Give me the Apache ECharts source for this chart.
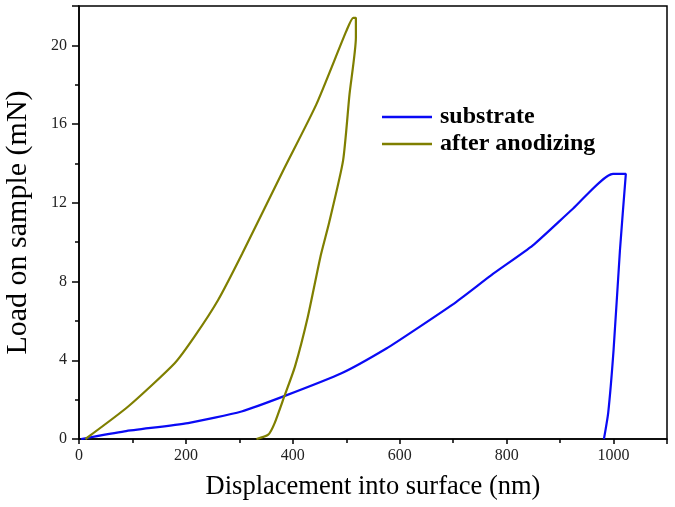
<!DOCTYPE html>
<html>
<head>
<meta charset="utf-8">
<script src="https://cdn.jsdelivr.net/npm/echarts@6/dist/echarts.min.js"></script>
<style>
  html, body { margin: 0; padding: 0; background: #fff; }
  #chart { width: 675px; height: 507px; }
</style>
</head>
<body>
<div id="chart"></div>
<script>
// substrate: loading, hold, unloading
const substrateX = [4, 85, 204, 304, 385, 491, 575, 637, 706, 775, 849, 924, 999, 1023, 1012, 1000, 990, 982]
const substrateY = [0, 0.39, 0.81, 1.4, 2.19, 3.34, 4.6, 5.7, 6.97, 8.4, 9.84, 11.7, 13.47, 13.47, 9.6, 4.5, 1.33, 0]
// after anodizing
const anodizedX = [12, 92, 179, 216, 260, 305, 382, 444, 500, 513, 518, 518, 506, 494, 468, 452, 428, 404, 384, 366, 354, 332]
const anodizedY = [0, 1.65, 3.85, 5.2, 7.05, 9.4, 13.64, 17.0, 20.72, 21.4, 21.4, 20.4, 17.5, 14.14, 11.0, 9.3, 6.2, 3.68, 2.16, 0.81, 0.22, 0]

const seriesNames = ['substrate', 'after anodizing']
const seriesColors = ['#0a0af5', '#7f7f00']

const pairs = (xs, ys) => xs.map((x, i) => [x, ys[i]])

const serif = 'Liberation Serif'
const chart = echarts.init(document.getElementById('chart'))
chart.setOption({
  backgroundColor: '#fff',
  animation: false,
  grid: {
    left: 79,
    right: 8,
    top: 6,
    bottom: 68,
    outerBoundsMode: 'none',
    containLabel: false,
    show: true,
    borderColor: '#000',
    borderWidth: 1.5,
  },
  legend: {
    orient: 'vertical',
    left: 382,
    top: 105,
    padding: 0,
    icon: 'rect',
    itemWidth: 50,
    itemHeight: 2.5,
    itemGap: 3,
    data: seriesNames,
    textStyle: { fontFamily: serif, fontWeight: 'bold', fontSize: 24, color: '#000', padding: [0, 0, 0, 3] },
  },
  xAxis: {
    type: 'value',
    min: 0,
    max: 1100,
    interval: 200,
    name: 'Displacement into surface (nm)',
    nameLocation: 'middle',
    nameGap: 35,
    nameTextStyle: { fontFamily: serif, fontSize: 26.5, color: '#000' },
    axisLine: { lineStyle: { color: '#000', width: 1.5 } },
    axisTick: { length: 5, lineStyle: { color: '#000', width: 1.5 } },
    minorTick: { show: true, splitNumber: 2, length: 4, lineStyle: { color: '#000', width: 1.5 } },
    splitLine: { show: false },
    axisLabel: {
      showMaxLabel: false,
      margin: 9,
      fontFamily: serif,
      fontSize: 16,
      color: '#222',
      formatter: (v) => String(v),
    },
  },
  yAxis: {
    type: 'value',
    min: 0,
    max: 22,
    interval: 4,
    name: 'Load on sample (mN)',
    nameLocation: 'middle',
    nameGap: 46,
    nameTextStyle: { fontFamily: serif, fontSize: 30, color: '#000' },
    axisLine: { show: true, lineStyle: { color: '#000', width: 1.5 } },
    axisTick: { show: true, length: 7, lineStyle: { color: '#000', width: 1.5 } },
    minorTick: { show: true, splitNumber: 2, length: 4, lineStyle: { color: '#000', width: 1.5 } },
    splitLine: { show: false },
    axisLabel: { showMaxLabel: false, margin: 12, fontFamily: serif, fontSize: 16, color: '#222' },
  },
  series: [
    {
      name: seriesNames[0],
      type: 'line',
      data: pairs(substrateX, substrateY),
      symbol: 'none',
      smooth: 0.2,
      lineStyle: { color: seriesColors[0], width: 2.2 },
      itemStyle: { color: seriesColors[0] },
    },
    {
      name: seriesNames[1],
      type: 'line',
      data: pairs(anodizedX, anodizedY),
      symbol: 'none',
      smooth: 0.2,
      lineStyle: { color: seriesColors[1], width: 2.2 },
      itemStyle: { color: seriesColors[1] },
    },
  ],
})
</script>
</body>
</html>
